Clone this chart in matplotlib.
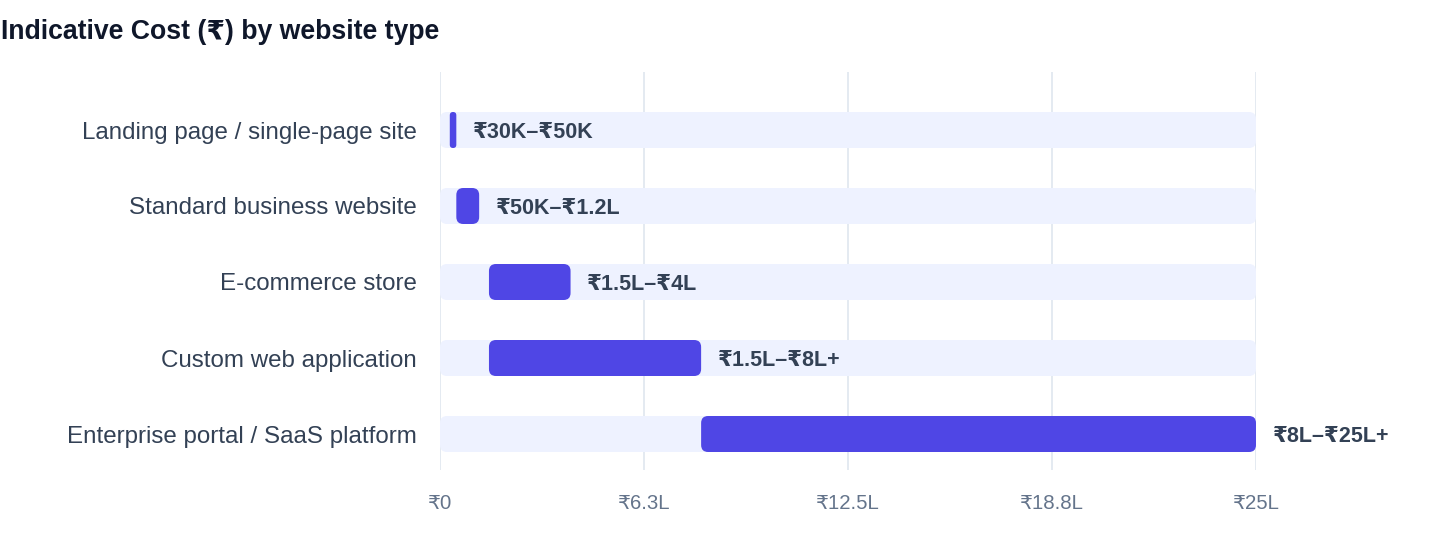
import matplotlib
matplotlib.use("Agg")
import matplotlib.pyplot as plt
from matplotlib.patches import FancyBboxPatch

plt.rcParams['font.family'] = ['Liberation Sans', 'DejaVu Sans']

# data (values in lakh)
categories = ["Landing page / single-page site", "Standard business website",
              "E-commerce store", "Custom web application",
              "Enterprise portal / SaaS platform"]
low = [0.3, 0.5, 1.5, 1.5, 8]
high = [0.5, 1.2, 4, 8, 25]
value_labels = ["₹30K–₹50K", "₹50K–₹1.2L", "₹1.5L–₹4L", "₹1.5L–₹8L+", "₹8L–₹25L+"]
xmax = 25
ticks = [0, 6.25, 12.5, 18.75, 25]
tick_labels = ["₹0", "₹6.3L", "₹12.5L", "₹18.8L", "₹25L"]

W, H = 1440, 560
fig = plt.figure(figsize=(W / 100, H / 100), dpi=100)
ax_l, ax_r, ax_t, ax_b = 440, 1256, 72, 470
ax = fig.add_axes([ax_l / W, 1 - ax_b / H, (ax_r - ax_l) / W, (ax_b - ax_t) / H])

row_px = 76
ylo = -(130 - ax_t) / row_px
yhi = 4 + (ax_b - 434) / row_px
ax.set_xlim(0, xmax)
ax.set_ylim(yhi, ylo)

xpp = xmax / (ax_r - ax_l)   # data x per pixel
ypp = 1 / row_px             # data y per pixel
aspect = ypp / xpp
bh = 36 * ypp

def rbar(x0, x1, y, color, radius_px=7):
    w = x1 - x0
    r = min(radius_px * xpp, w / 2)
    p = FancyBboxPatch((x0, y - bh / 2), w, bh,
                       boxstyle=f"round,pad=0,rounding_size={r}",
                       mutation_aspect=aspect, fc=color, ec="none", zorder=3)
    ax.add_patch(p)

for i, cat in enumerate(categories):
    rbar(0, xmax, i, "#EEF2FF")
    rbar(low[i], high[i], i, "#4F46E5")
    ax.annotate(value_labels[i], (high[i], i), xytext=(12, 0), textcoords="offset points",
                ha="left", va="center_baseline", fontsize=15.5, fontweight="bold",
                color="#334155", annotation_clip=False, zorder=4)

ax.set_yticks(range(len(categories)))
ax.set_yticklabels(categories, fontsize=17.4, color="#334155")
ax.set_xticks(ticks)
ax.set_xticklabels(tick_labels, fontsize=14.7, color="#64748B")
ax.tick_params(axis="both", length=0)
ax.tick_params(axis="y", pad=17)
ax.tick_params(axis="x", pad=17.5)
for s in ax.spines.values():
    s.set_visible(False)
ax.set_axisbelow(True)
ax.grid(axis="x", color="#E2E8F0", lw=1.3)

fig.text(1 / W, 1 - 32 / H, "Indicative Cost (₹) by website type", fontsize=19.2,
         fontweight="bold", color="#0F172A", ha="left", va="center")

fig.savefig("out.png", dpi=100)
